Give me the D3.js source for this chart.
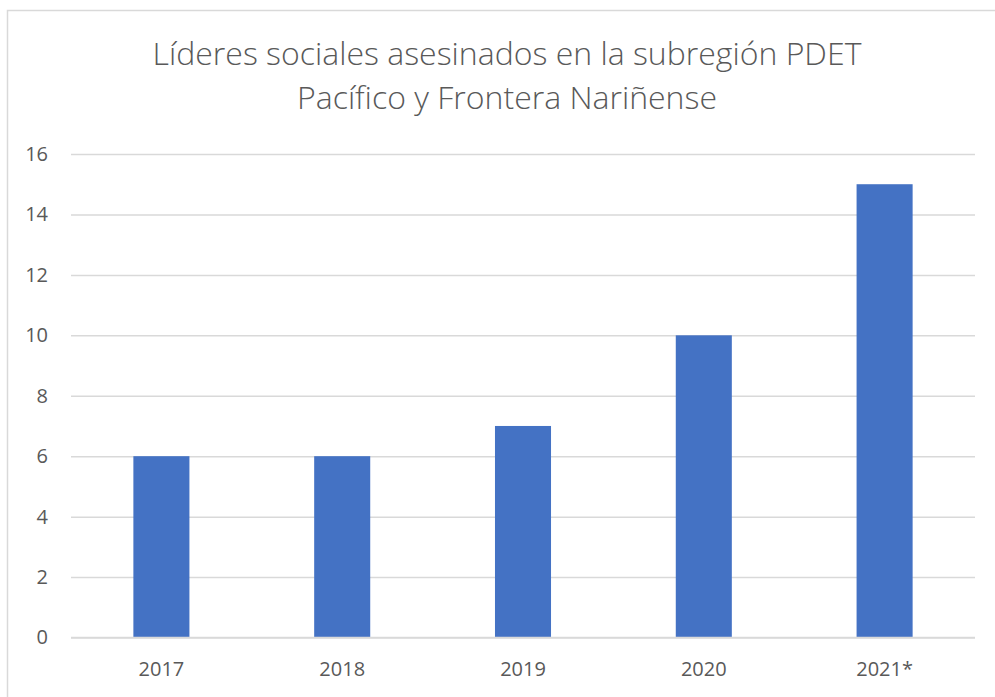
<!doctype html>
<html>
<head>
<meta charset="UTF-8">
<title>Líderes sociales asesinados</title>
<style>
  body { margin: 0; background: #fff; }
  text { font-family: "Open Sans", sans-serif; fill: #595959; }
</style>
</head>
<body>
<div id="chart"></div>
<script src="https://cdn.jsdelivr.net/npm/d3@7"></script>
<script>
// data
var years = ["2017", "2018", "2019", "2020", "2021*"];
var lideres = [6, 6, 7, 10, 15];
var yTicks = [0, 2, 4, 6, 8, 10, 12, 14, 16];
var titleLines = ["Líderes sociales asesinados en la subregión PDET", "Pacífico y Frontera Nariñense"];

var W = 995, H = 697;
var margin = {top: 154, right: 20, bottom: 60, left: 71},
    width = 975 - margin.left,
    height = 637.5 - margin.top;

var svg = d3.select("#chart")
  .append("svg")
    .attr("width", W)
    .attr("height", H);

svg.append("rect")
  .attr("width", W).attr("height", H)
  .attr("fill", "#fff");

// chart border (runs off the right and bottom edges)
svg.append("rect")
  .attr("x", 7.5).attr("y", 10.5)
  .attr("width", W + 20).attr("height", H + 20)
  .attr("fill", "none")
  .attr("stroke", "#d9d9d9")
  .attr("stroke-width", 1.5);

// title
svg.append("g").selectAll("text")
  .data(titleLines)
  .join("text")
    .attr("x", 507)
    .attr("y", function(d, i) { return 65 + i * 44; })
    .attr("text-anchor", "middle")
    .style("font-size", "32px")
    .style("font-weight", "300")
    .text(function(d) { return d; });

var g = svg.append("g")
  .attr("transform", "translate(" + margin.left + "," + margin.top + ")");

var x = d3.scaleBand()
  .domain(years)
  .range([0, width])
  .paddingInner(0.69)
  .paddingOuter(0.345);

var y = d3.scaleLinear()
  .domain([0, 16])
  .range([height, 0]);

// gridlines
g.append("g")
  .call(d3.axisLeft(y).tickValues(yTicks).tickSize(-width).tickFormat(""))
  .call(function(a) {
    a.select(".domain").remove();
    a.selectAll("line").attr("stroke", "#d9d9d9").attr("stroke-width", 1.5);
  });

// y labels
g.append("g")
  .call(d3.axisLeft(y).tickValues(yTicks).tickSize(0).tickPadding(23))
  .call(function(a) {
    a.select(".domain").remove();
    a.selectAll("text").style("font-size", "20px").attr("fill", "#595959")
      .style("font-family", "'Open Sans', sans-serif");
  });

// bars
g.selectAll("rect.bar")
  .data(years)
  .join("rect")
    .attr("class", "bar")
    .attr("x", function(d) { return x(d); })
    .attr("y", function(d, i) { return y(lideres[i]); })
    .attr("width", x.bandwidth())
    .attr("height", function(d, i) { return height - y(lideres[i]); })
    .attr("fill", "#4472c4");

// x labels
g.append("g")
  .attr("transform", "translate(0," + height + ")")
  .call(d3.axisBottom(x).tickSize(0).tickPadding(24))
  .call(function(a) {
    a.select(".domain").remove();
    a.selectAll("text").style("font-size", "20px").attr("fill", "#595959")
      .style("font-family", "'Open Sans', sans-serif");
  });

// baseline
g.append("line")
  .attr("x1", 0).attr("x2", width)
  .attr("y1", y(0)).attr("y2", y(0))
  .attr("stroke", "#d9d9d9").attr("stroke-width", 1.5);
</script>
</body>
</html>
